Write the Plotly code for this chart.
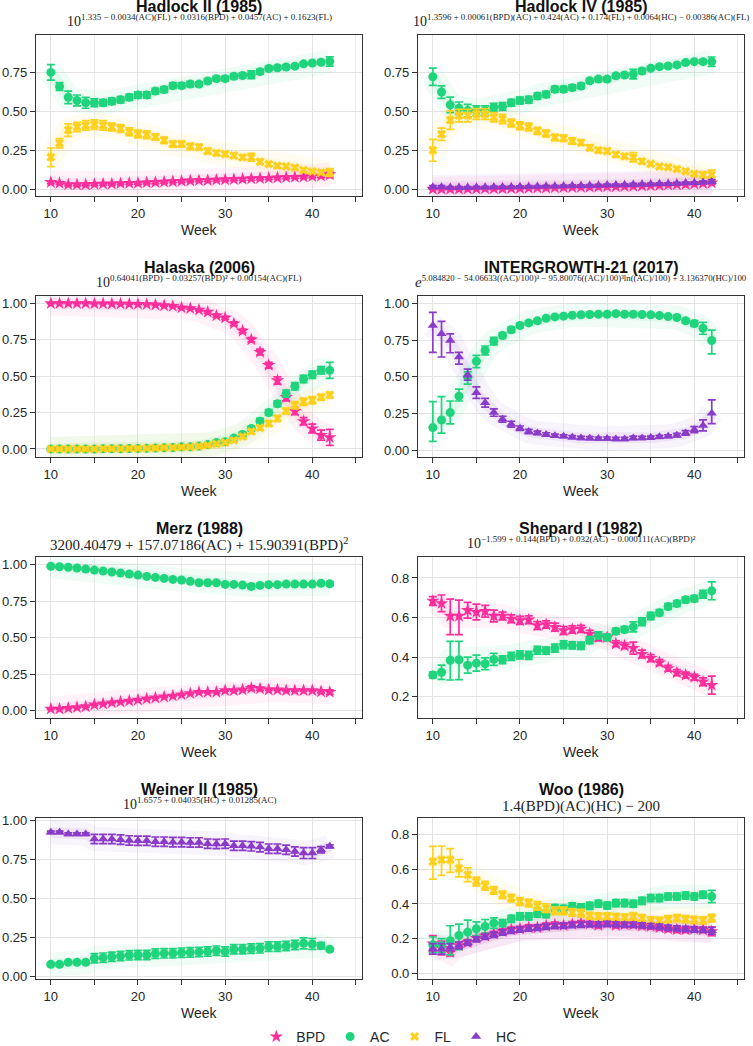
import plotly.graph_objects as go

W, H = 753, 1046
weeks = list(range(10, 43))

# ---------------- Hadlock II (1985) ----------------
h2_bpd = [0.045, 0.04, 0.03, 0.03, 0.03, 0.033, 0.035, 0.035, 0.038, 0.04, 0.04,
          0.043, 0.045, 0.048, 0.05, 0.052, 0.055, 0.057, 0.058, 0.06, 0.062, 0.064,
          0.066, 0.068, 0.07, 0.072, 0.074, 0.076, 0.078, 0.08, 0.083, 0.086, 0.095]
h2_bpd_err = [0.008, 0.008, 0.008, 0.008, 0.008, 0.008, 0.008, 0.008, 0.008, 0.008, 0.008,
              0.008, 0.008, 0.008, 0.008, 0.008, 0.008, 0.008, 0.008, 0.008, 0.008, 0.008,
              0.008, 0.01, 0.008, 0.008, 0.008, 0.008, 0.008, 0.008, 0.008, 0.01, 0.02]
h2_ac = [0.75, 0.66, 0.59, 0.57, 0.555, 0.555, 0.555, 0.565, 0.575, 0.59, 0.605,
         0.605, 0.63, 0.64, 0.665, 0.665, 0.675, 0.675, 0.695, 0.71, 0.71, 0.725,
         0.73, 0.735, 0.755, 0.775, 0.78, 0.785, 0.79, 0.805, 0.81, 0.815, 0.82]
h2_ac_err = [0.05, 0.025, 0.04, 0.035, 0.035, 0.025, 0.02, 0.02, 0.02, 0.02, 0.02,
             0.02, 0.018, 0.018, 0.018, 0.018, 0.018, 0.015, 0.015, 0.015, 0.015, 0.015,
             0.015, 0.025, 0.015, 0.012, 0.012, 0.012, 0.012, 0.01, 0.01, 0.012, 0.03]
h2_fl = [0.205, 0.295, 0.38, 0.40, 0.41, 0.415, 0.41, 0.40, 0.39, 0.37, 0.355,
         0.35, 0.335, 0.315, 0.29, 0.29, 0.275, 0.27, 0.245, 0.233, 0.226, 0.216,
         0.205, 0.205, 0.177, 0.162, 0.151, 0.147, 0.14, 0.123, 0.114, 0.108, 0.108]
h2_fl_err = [0.06, 0.03, 0.04, 0.03, 0.03, 0.03, 0.03, 0.025, 0.025, 0.025, 0.025,
             0.025, 0.02, 0.02, 0.02, 0.02, 0.02, 0.018, 0.018, 0.015, 0.015, 0.015,
             0.015, 0.025, 0.015, 0.012, 0.012, 0.012, 0.012, 0.012, 0.012, 0.012, 0.025]

# ---------------- Hadlock IV (1985) ----------------
h4_bpd = [0.002, 0.002, 0.002, 0.002, 0.003, 0.003, 0.004, 0.004, 0.005, 0.006, 0.007,
          0.008, 0.009, 0.01, 0.011, 0.012, 0.013, 0.014, 0.015, 0.016, 0.017, 0.018,
          0.019, 0.02, 0.022, 0.024, 0.026, 0.028, 0.03, 0.032, 0.035, 0.038, 0.042]
h4_bpd_err = [0.004, 0.004, 0.004, 0.004, 0.004, 0.004, 0.004, 0.004, 0.004, 0.004, 0.004,
              0.004, 0.004, 0.004, 0.004, 0.004, 0.004, 0.004, 0.004, 0.004, 0.004, 0.004,
              0.004, 0.005, 0.004, 0.004, 0.004, 0.004, 0.004, 0.004, 0.004, 0.005, 0.008]
h4_ac = [0.722, 0.624, 0.542, 0.52, 0.505, 0.505, 0.505, 0.527, 0.531, 0.555, 0.57,
         0.574, 0.598, 0.609, 0.642, 0.642, 0.652, 0.663, 0.696, 0.707, 0.707, 0.728,
         0.733, 0.739, 0.759, 0.776, 0.787, 0.791, 0.798, 0.813, 0.819, 0.819, 0.819]
h4_ac_err = [0.055, 0.04, 0.05, 0.04, 0.04, 0.03, 0.03, 0.025, 0.025, 0.022, 0.022,
             0.022, 0.02, 0.02, 0.018, 0.018, 0.018, 0.016, 0.015, 0.015, 0.015, 0.015,
             0.015, 0.03, 0.015, 0.012, 0.012, 0.012, 0.012, 0.01, 0.01, 0.012, 0.03]
h4_fl = [0.25, 0.353, 0.444, 0.473, 0.473, 0.483, 0.483, 0.462, 0.451, 0.425, 0.408,
         0.40, 0.375, 0.358, 0.332, 0.327, 0.31, 0.30, 0.267, 0.251, 0.245, 0.223,
         0.212, 0.206, 0.18, 0.163, 0.147, 0.141, 0.13, 0.115, 0.10, 0.093, 0.093]
h4_fl_err = [0.07, 0.04, 0.06, 0.04, 0.04, 0.035, 0.035, 0.03, 0.03, 0.025, 0.025,
             0.025, 0.022, 0.022, 0.02, 0.02, 0.02, 0.018, 0.018, 0.016, 0.016, 0.015,
             0.015, 0.03, 0.015, 0.012, 0.012, 0.012, 0.012, 0.012, 0.012, 0.018, 0.03]
h4_hc = [0.015, 0.015, 0.012, 0.012, 0.012, 0.013, 0.013, 0.014, 0.015, 0.015, 0.016,
         0.017, 0.018, 0.019, 0.02, 0.021, 0.022, 0.023, 0.024, 0.025, 0.027, 0.028,
         0.029, 0.03, 0.032, 0.033, 0.035, 0.036, 0.038, 0.04, 0.042, 0.045, 0.05]
h4_hc_err = [0.008, 0.008, 0.006, 0.006, 0.006, 0.006, 0.006, 0.006, 0.006, 0.006, 0.006,
             0.006, 0.006, 0.006, 0.006, 0.006, 0.006, 0.006, 0.006, 0.006, 0.006, 0.006,
             0.006, 0.008, 0.006, 0.006, 0.006, 0.006, 0.006, 0.006, 0.006, 0.008, 0.012]

# ---------------- Halaska (2006) ----------------
hk_bpd = [0.999, 0.999, 0.999, 0.999, 0.999, 0.998, 0.998, 0.997, 0.996, 0.995, 0.994,
          0.993, 0.99, 0.985, 0.98, 0.97, 0.965, 0.955, 0.94, 0.915, 0.90, 0.86,
          0.81, 0.75, 0.665, 0.575, 0.47, 0.355, 0.26, 0.19, 0.14, 0.095, 0.08]
hk_bpd_err = [0.002, 0.002, 0.002, 0.002, 0.002, 0.002, 0.002, 0.002, 0.002, 0.002, 0.002,
              0.003, 0.003, 0.004, 0.004, 0.005, 0.006, 0.007, 0.008, 0.01, 0.01, 0.012,
              0.012, 0.015, 0.02, 0.02, 0.025, 0.025, 0.025, 0.025, 0.03, 0.035, 0.055]
hk_ac = [0.0, 0.0, 0.0, 0.0, 0.0, 0.0, 0.001, 0.001, 0.002, 0.003, 0.004,
         0.005, 0.006, 0.008, 0.01, 0.015, 0.015, 0.02, 0.03, 0.045, 0.05, 0.075,
         0.10, 0.14, 0.19, 0.25, 0.31, 0.38, 0.43, 0.48, 0.51, 0.54, 0.54]
hk_ac_err = [0.001, 0.001, 0.001, 0.001, 0.001, 0.001, 0.001, 0.001, 0.001, 0.001, 0.002,
             0.002, 0.002, 0.003, 0.003, 0.004, 0.004, 0.005, 0.006, 0.008, 0.01, 0.01,
             0.015, 0.015, 0.02, 0.02, 0.02, 0.025, 0.025, 0.025, 0.025, 0.025, 0.055]
hk_fl = [0.0, 0.0, 0.0, 0.0, 0.0, 0.0, 0.001, 0.001, 0.002, 0.003, 0.004,
         0.005, 0.006, 0.008, 0.01, 0.012, 0.014, 0.018, 0.025, 0.035, 0.045, 0.06,
         0.085, 0.12, 0.145, 0.175, 0.21, 0.26, 0.30, 0.325, 0.335, 0.355, 0.37]
hk_fl_err = [0.001, 0.001, 0.001, 0.001, 0.001, 0.001, 0.001, 0.001, 0.001, 0.001, 0.002,
             0.002, 0.002, 0.003, 0.003, 0.004, 0.004, 0.005, 0.006, 0.008, 0.008, 0.01,
             0.012, 0.015, 0.015, 0.018, 0.02, 0.02, 0.025, 0.025, 0.025, 0.02, 0.02]

# ---------------- INTERGROWTH-21 (2017) ----------------
ig_ac = [0.155, 0.207, 0.257, 0.369, 0.50, 0.606, 0.68, 0.743, 0.781, 0.82, 0.849,
         0.867, 0.881, 0.899, 0.908, 0.913, 0.919, 0.922, 0.924, 0.926, 0.926, 0.93,
         0.926, 0.926, 0.924, 0.922, 0.917, 0.91, 0.904, 0.881, 0.863, 0.83, 0.747]
ig_ac_up = [0.176, 0.158, 0.079, 0.048, 0.034, 0.04, 0.03, 0.025, 0.02, 0.018, 0.015,
            0.012, 0.012, 0.01, 0.01, 0.01, 0.01, 0.01, 0.01, 0.01, 0.01, 0.01,
            0.01, 0.01, 0.01, 0.01, 0.01, 0.01, 0.012, 0.015, 0.02, 0.04, 0.071]
ig_ac_dn = [0.094, 0.09, 0.077, 0.033, 0.05, 0.043, 0.03, 0.025, 0.02, 0.018, 0.015,
            0.012, 0.012, 0.01, 0.01, 0.01, 0.01, 0.01, 0.01, 0.01, 0.01, 0.01,
            0.01, 0.01, 0.01, 0.01, 0.01, 0.01, 0.012, 0.015, 0.02, 0.04, 0.09]
ig_hc = [0.849, 0.793, 0.748, 0.635, 0.511, 0.392, 0.324, 0.257, 0.212, 0.178, 0.151,
         0.128, 0.119, 0.108, 0.10, 0.096, 0.09, 0.085, 0.083, 0.081, 0.081, 0.078,
         0.078, 0.085, 0.085, 0.087, 0.092, 0.096, 0.103, 0.119, 0.141, 0.17, 0.253]
ig_hc_up = [0.09, 0.085, 0.045, 0.032, 0.041, 0.04, 0.03, 0.025, 0.02, 0.02, 0.015,
            0.015, 0.012, 0.012, 0.01, 0.01, 0.01, 0.01, 0.01, 0.01, 0.01, 0.01,
            0.01, 0.012, 0.01, 0.01, 0.01, 0.01, 0.012, 0.015, 0.02, 0.037, 0.09]
ig_hc_dn = [0.182, 0.158, 0.084, 0.049, 0.034, 0.038, 0.03, 0.025, 0.02, 0.02, 0.015,
            0.015, 0.012, 0.012, 0.01, 0.01, 0.01, 0.01, 0.01, 0.01, 0.01, 0.01,
            0.01, 0.012, 0.01, 0.01, 0.01, 0.01, 0.012, 0.015, 0.02, 0.037, 0.071]

# ---------------- Merz (1988) ----------------
mz_bpd = [0.011, 0.011, 0.016, 0.021, 0.027, 0.039, 0.046, 0.053, 0.059, 0.066, 0.073,
          0.08, 0.087, 0.094, 0.10, 0.108, 0.117, 0.126, 0.126, 0.126, 0.137, 0.137,
          0.142, 0.153, 0.149, 0.142, 0.142, 0.137, 0.137, 0.137, 0.137, 0.13, 0.126]
mz_bpd_err = [0.004, 0.004, 0.004, 0.004, 0.004, 0.004, 0.004, 0.004, 0.004, 0.004, 0.004,
              0.004, 0.004, 0.004, 0.004, 0.004, 0.004, 0.005, 0.005, 0.005, 0.005, 0.005,
              0.006, 0.015, 0.01, 0.005, 0.005, 0.005, 0.005, 0.005, 0.005, 0.01, 0.015]
mz_ac = [0.989, 0.986, 0.982, 0.977, 0.97, 0.963, 0.957, 0.95, 0.943, 0.936, 0.929,
         0.92, 0.913, 0.906, 0.899, 0.895, 0.886, 0.876, 0.876, 0.876, 0.865, 0.865,
         0.86, 0.851, 0.858, 0.863, 0.863, 0.867, 0.867, 0.867, 0.867, 0.872, 0.869]
mz_ac_err = [0.004, 0.004, 0.004, 0.004, 0.004, 0.004, 0.004, 0.004, 0.004, 0.004, 0.004,
             0.004, 0.004, 0.004, 0.004, 0.004, 0.004, 0.005, 0.005, 0.005, 0.005, 0.005,
             0.006, 0.015, 0.01, 0.005, 0.005, 0.005, 0.005, 0.005, 0.005, 0.01, 0.015]

# ---------------- Shepard I (1982) ----------------
sh_bpd = [0.684, 0.672, 0.608, 0.608, 0.637, 0.628, 0.632, 0.608, 0.608, 0.594, 0.586,
          0.589, 0.56, 0.565, 0.552, 0.535, 0.54, 0.543, 0.518, 0.50, 0.50, 0.468,
          0.458, 0.446, 0.416, 0.395, 0.373, 0.344, 0.322, 0.31, 0.299, 0.276, 0.259]
sh_bpd_up = [0.022, 0.042, 0.085, 0.08, 0.04, 0.04, 0.03, 0.03, 0.02, 0.02, 0.02,
             0.02, 0.02, 0.018, 0.02, 0.02, 0.018, 0.018, 0.018, 0.018, 0.015, 0.015,
             0.015, 0.03, 0.02, 0.018, 0.015, 0.015, 0.015, 0.015, 0.015, 0.02, 0.045]
sh_bpd_dn = [0.022, 0.042, 0.094, 0.094, 0.04, 0.04, 0.03, 0.03, 0.02, 0.02, 0.02,
             0.02, 0.02, 0.018, 0.02, 0.02, 0.018, 0.018, 0.018, 0.018, 0.015, 0.015,
             0.015, 0.03, 0.02, 0.018, 0.015, 0.015, 0.015, 0.015, 0.015, 0.02, 0.045]
sh_ac = [0.31, 0.324, 0.384, 0.387, 0.36, 0.37, 0.367, 0.389, 0.387, 0.404, 0.412,
         0.409, 0.435, 0.433, 0.446, 0.463, 0.46, 0.458, 0.486, 0.51, 0.50, 0.531,
         0.54, 0.553, 0.579, 0.608, 0.625, 0.656, 0.671, 0.69, 0.696, 0.718, 0.735]
sh_ac_up = [0.015, 0.036, 0.096, 0.093, 0.04, 0.04, 0.03, 0.03, 0.02, 0.02, 0.02,
            0.02, 0.02, 0.018, 0.02, 0.02, 0.018, 0.018, 0.018, 0.018, 0.015, 0.015,
            0.015, 0.025, 0.02, 0.018, 0.015, 0.015, 0.015, 0.015, 0.015, 0.02, 0.045]
sh_ac_dn = [0.015, 0.036, 0.099, 0.10, 0.04, 0.04, 0.03, 0.03, 0.02, 0.02, 0.02,
            0.02, 0.02, 0.018, 0.02, 0.02, 0.018, 0.018, 0.018, 0.018, 0.015, 0.015,
            0.015, 0.025, 0.02, 0.018, 0.015, 0.015, 0.015, 0.015, 0.015, 0.02, 0.045]

# ---------------- Weiner II (1985) ----------------
wn_ac = [0.075, 0.075, 0.088, 0.088, 0.088, 0.114, 0.118, 0.124, 0.129, 0.133, 0.135,
         0.135, 0.144, 0.146, 0.146, 0.15, 0.152, 0.155, 0.157, 0.163, 0.157, 0.172,
         0.172, 0.176, 0.178, 0.189, 0.189, 0.193, 0.20, 0.21, 0.206, 0.195, 0.172]
wn_ac_err = [0.008, 0.008, 0.008, 0.008, 0.008, 0.03, 0.03, 0.03, 0.03, 0.03, 0.03,
             0.03, 0.03, 0.03, 0.03, 0.03, 0.03, 0.03, 0.03, 0.03, 0.03, 0.03,
             0.03, 0.03, 0.03, 0.03, 0.03, 0.03, 0.03, 0.035, 0.035, 0.02, 0.01]
wn_hc = [0.923, 0.923, 0.912, 0.912, 0.912, 0.88, 0.88, 0.88, 0.876, 0.871, 0.869,
         0.869, 0.863, 0.863, 0.86, 0.86, 0.858, 0.858, 0.85, 0.848, 0.85, 0.837,
         0.837, 0.833, 0.828, 0.818, 0.818, 0.811, 0.80, 0.79, 0.79, 0.811, 0.833]
wn_hc_err = [0.008, 0.008, 0.008, 0.008, 0.008, 0.03, 0.03, 0.03, 0.03, 0.03, 0.03,
             0.03, 0.03, 0.03, 0.03, 0.03, 0.03, 0.03, 0.03, 0.03, 0.03, 0.03,
             0.03, 0.03, 0.03, 0.03, 0.03, 0.03, 0.03, 0.035, 0.035, 0.02, 0.01]

# ---------------- Woo (1986) ----------------
wo_bpd = [0.17, 0.145, 0.12, 0.16, 0.177, 0.202, 0.216, 0.227, 0.241, 0.251, 0.256,
          0.264, 0.264, 0.274, 0.28, 0.276, 0.283, 0.289, 0.285, 0.276, 0.289, 0.276,
          0.28, 0.28, 0.274, 0.27, 0.264, 0.256, 0.251, 0.251, 0.254, 0.251, 0.241]
wo_bpd_err = [0.047, 0.04, 0.02, 0.02, 0.015, 0.015, 0.015, 0.015, 0.015, 0.015, 0.015,
              0.015, 0.015, 0.015, 0.015, 0.015, 0.015, 0.015, 0.015, 0.015, 0.015, 0.015,
              0.015, 0.015, 0.015, 0.015, 0.015, 0.015, 0.015, 0.015, 0.015, 0.015, 0.025]
wo_ac = [0.164, 0.16, 0.187, 0.218, 0.237, 0.256, 0.27, 0.289, 0.289, 0.314, 0.328,
         0.328, 0.343, 0.341, 0.376, 0.372, 0.386, 0.38, 0.389, 0.401, 0.391, 0.405,
         0.405, 0.401, 0.418, 0.434, 0.434, 0.443, 0.443, 0.449, 0.443, 0.453, 0.443]
wo_ac_up = [0.045, 0.04, 0.087, 0.065, 0.07, 0.04, 0.04, 0.03, 0.02, 0.02, 0.02,
            0.02, 0.02, 0.02, 0.02, 0.02, 0.02, 0.02, 0.02, 0.02, 0.02, 0.02,
            0.02, 0.02, 0.02, 0.02, 0.02, 0.02, 0.02, 0.02, 0.02, 0.02, 0.035]
wo_ac_dn = [0.045, 0.04, 0.081, 0.083, 0.065, 0.04, 0.04, 0.03, 0.02, 0.02, 0.02,
            0.02, 0.02, 0.02, 0.02, 0.02, 0.02, 0.02, 0.02, 0.02, 0.02, 0.02,
            0.02, 0.02, 0.02, 0.02, 0.02, 0.02, 0.02, 0.02, 0.02, 0.02, 0.035]
wo_fl = [0.646, 0.655, 0.655, 0.607, 0.569, 0.53, 0.505, 0.478, 0.453, 0.434, 0.414,
         0.405, 0.389, 0.376, 0.36, 0.36, 0.351, 0.347, 0.332, 0.328, 0.328, 0.324,
         0.322, 0.328, 0.318, 0.305, 0.303, 0.312, 0.318, 0.312, 0.308, 0.305, 0.318]
wo_fl_up = [0.087, 0.08, 0.065, 0.05, 0.04, 0.025, 0.025, 0.022, 0.022, 0.022, 0.022,
            0.022, 0.025, 0.025, 0.022, 0.022, 0.022, 0.022, 0.02, 0.02, 0.02, 0.02,
            0.02, 0.022, 0.02, 0.02, 0.02, 0.02, 0.02, 0.02, 0.02, 0.02, 0.022]
wo_fl_dn = [0.102, 0.09, 0.072, 0.05, 0.04, 0.025, 0.025, 0.022, 0.022, 0.022, 0.022,
            0.022, 0.025, 0.025, 0.022, 0.022, 0.022, 0.022, 0.02, 0.02, 0.02, 0.02,
            0.02, 0.022, 0.02, 0.02, 0.02, 0.02, 0.02, 0.02, 0.02, 0.02, 0.022]
wo_hc = [0.14, 0.14, 0.15, 0.16, 0.175, 0.195, 0.21, 0.222, 0.235, 0.245, 0.252,
         0.258, 0.262, 0.268, 0.272, 0.274, 0.278, 0.28, 0.282, 0.282, 0.284, 0.282,
         0.28, 0.279, 0.276, 0.272, 0.268, 0.262, 0.258, 0.255, 0.252, 0.25, 0.245]
wo_hc_err = [0.03, 0.03, 0.02, 0.02, 0.015, 0.015, 0.015, 0.015, 0.015, 0.015, 0.015,
             0.015, 0.015, 0.015, 0.015, 0.015, 0.015, 0.015, 0.015, 0.015, 0.015, 0.015,
             0.015, 0.015, 0.015, 0.015, 0.015, 0.015, 0.015, 0.015, 0.015, 0.015, 0.02]

# ---------------- styling ----------------
COL = {"BPD": "#fb2e9b", "AC": "#1fd47c", "FL": "#ffd11e", "HC": "#8a3cc8"}
RGB = {"BPD": "251,46,155", "AC": "31,212,124", "FL": "255,209,30", "HC": "138,60,200"}
SYM = {"BPD": "star", "AC": "circle", "FL": "x", "HC": "triangle-up"}
MSIZE = {"BPD": 10, "AC": 9, "FL": 8, "HC": 9}
ORDER = ["BPD", "AC", "FL", "HC"]


def sup(base, exp, size=9.0):
    return base + "<sup><span style='font-size:%.1fpx'>%s</span></sup>" % (size, exp)


panels = [
    dict(title="Hadlock II (1985)",
         formula=sup("10", "1.335 − 0.0034(AC)(FL) + 0.0316(BPD) + 0.0457(AC) + 0.1623(FL)"), fsize=14, has_sup=True,
         series={"BPD": (h2_bpd, h2_bpd_err, None), "AC": (h2_ac, h2_ac_err, None),
                 "FL": (h2_fl, h2_fl_err, None)},
         yrange=[-0.043, 0.99], yticks=[0, 0.25, 0.5, 0.75], fmt=".2f"),
    dict(title="Hadlock IV (1985)",
         formula=sup("10", "1.3596 + 0.00061(BPD)(AC) + 0.424(AC) + 0.174(FL) + 0.0064(HC) − 0.00386(AC)(FL)", 8.9), fsize=14, has_sup=True,
         series={"BPD": (h4_bpd, h4_bpd_err, None), "AC": (h4_ac, h4_ac_err, None),
                 "FL": (h4_fl, h4_fl_err, None), "HC": (h4_hc, h4_hc_err, None)},
         yrange=[-0.043, 0.99], yticks=[0, 0.25, 0.5, 0.75], fmt=".2f"),
    dict(title="Halaska (2006)",
         formula=sup("10", "0.64041(BPD) − 0.03257(BPD)² + 0.00154(AC)(FL)"), fsize=14, has_sup=True,
         series={"BPD": (hk_bpd, hk_bpd_err, None), "AC": (hk_ac, hk_ac_err, None),
                 "FL": (hk_fl, hk_fl_err, None)},
         yrange=[-0.055, 1.05], yticks=[0, 0.25, 0.5, 0.75, 1.0], fmt=".2f"),
    dict(title="INTERGROWTH-21 (2017)",
         formula=sup("<i>e</i>", "5.084820 − 54.06633((AC)/100)³ − 95.80076((AC)/100)³ln((AC)/100) + 3.136370(HC)/100", 8.8), fsize=15, has_sup=True,
         series={"AC": (ig_ac, ig_ac_up, ig_ac_dn), "HC": (ig_hc, ig_hc_up, ig_hc_dn)},
         yrange=[-0.045, 1.05], yticks=[0, 0.25, 0.5, 0.75, 1.0], fmt=".2f"),
    dict(title="Merz (1988)",
         formula="3200.40479 + 157.07186(AC) + 15.90391(BPD)<sup>2</sup>", fsize=15, has_sup=False,
         series={"BPD": (mz_bpd, mz_bpd_err, None), "AC": (mz_ac, mz_ac_err, None)},
         yrange=[-0.052, 1.053], yticks=[0, 0.25, 0.5, 0.75, 1.0], fmt=".2f"),
    dict(title="Shepard I (1982)",
         formula=sup("10", "−1.599 + 0.144(BPD) + 0.032(AC) − 0.000111(AC)(BPD)²"), fsize=14, has_sup=True,
         series={"BPD": (sh_bpd, sh_bpd_up, sh_bpd_dn), "AC": (sh_ac, sh_ac_up, sh_ac_dn)},
         yrange=[0.093, 0.906], yticks=[0.2, 0.4, 0.6, 0.8], fmt=".1f"),
    dict(title="Weiner II (1985)",
         formula=sup("10", "1.6575 + 0.04035(HC) + 0.01285(AC)"), fsize=14, has_sup=True,
         series={"AC": (wn_ac, wn_ac_err, None), "HC": (wn_hc, wn_hc_err, None)},
         yrange=[-0.019, 1.015], yticks=[0, 0.25, 0.5, 0.75, 1.0], fmt=".2f"),
    dict(title="Woo (1986)",
         formula="1.4(BPD)(AC)(HC) − 200", fsize=15, has_sup=False,
         series={"BPD": (wo_bpd, wo_bpd_err, None), "AC": (wo_ac, wo_ac_up, wo_ac_dn),
                 "FL": (wo_fl, wo_fl_up, wo_fl_dn), "HC": (wo_hc, wo_hc_err, None)},
         yrange=[-0.034, 0.897], yticks=[0, 0.2, 0.4, 0.6, 0.8], fmt=".1f"),
]

for p in panels:
    for k, (v, e1, e2) in p["series"].items():
        assert len(v) == 33 and len(e1) == 33 and (e2 is None or len(e2) == 33), (p["title"], k)

# layout geometry (pixels)
col_x = [(36, 362), (418, 744)]
row_top = [35, 296, 557, 818]
row_h = 161


def py(px):
    return 1 - px / H


fig = go.Figure()
layout = dict(width=W, height=H, margin=dict(l=0, r=0, t=0, b=0, autoexpand=False),
              plot_bgcolor="white", paper_bgcolor="white",
              font=dict(family="Liberation Sans, Arial, sans-serif", size=13, color="#262626"),
              showlegend=True, annotations=[])

FONT_T = "Liberation Sans, Arial, sans-serif"
FONT_F = "Liberation Serif, Times New Roman, serif"

axis_common = dict(showline=True, linecolor="#333333", linewidth=1.3, mirror=True,
                   ticks="outside", ticklen=5, tickwidth=1.2, tickcolor="#333333",
                   showgrid=True, gridcolor="#e4e4e4", gridwidth=1, zeroline=False,
                   tickfont=dict(size=13, color="#262626"))

for i, p in enumerate(panels):
    r, c = divmod(i, 2)
    n = i + 1
    xs = "x" if n == 1 else "x%d" % n
    ys = "y" if n == 1 else "y%d" % n
    x0, x1 = col_x[c]
    top = row_top[r]
    bot = top + row_h
    layout["xaxis" if n == 1 else "xaxis%d" % n] = dict(
        domain=[x0 / W, x1 / W], anchor=ys, range=[8.3, 45.7],
        tickmode="array", tickvals=[10, 20, 30, 40],
        minor=dict(tickmode="array", tickvals=[15, 25, 35, 45], ticks="outside", ticklen=5,
                   tickwidth=1.2, tickcolor="#333333", showgrid=True, gridcolor="#ececec",
                   gridwidth=1),
        **axis_common)
    layout["yaxis" if n == 1 else "yaxis%d" % n] = dict(
        domain=[py(bot), py(top)], anchor=xs, range=p["yrange"],
        tickmode="array", tickvals=p["yticks"], tickformat=p["fmt"], **axis_common)

    cx = (x0 + x1) / 2 / W
    layout["annotations"].append(dict(
        text="<b>%s</b>" % p["title"], x=cx, y=py(top - 28.5), xref="paper", yref="paper",
        xanchor="center", yanchor="middle", showarrow=False,
        font=dict(family=FONT_T, size=16, color="#111111")))
    fy = top - 4 if p["has_sup"] else top - 1
    layout["annotations"].append(dict(
        text=p["formula"], x=cx, y=py(fy), xref="paper", yref="paper",
        xanchor="center", yanchor="bottom", showarrow=False,
        font=dict(family=FONT_F, size=p["fsize"], color="#222222")))
    layout["annotations"].append(dict(
        text="Week", x=cx, y=py(bot + 34), xref="paper", yref="paper",
        xanchor="center", yanchor="middle", showarrow=False,
        font=dict(family=FONT_T, size=14, color="#262626")))

    keys = [k for k in ORDER if k in p["series"]]
    # faint spread behind the means
    for key in keys:
        vals = p["series"][key][0]
        fig.add_trace(go.Scatter(x=weeks, y=vals, xaxis=xs, yaxis=ys, mode="lines",
                                 line=dict(color="rgba(%s,0.06)" % RGB[key], width=24),
                                 hoverinfo="skip", showlegend=False))
        fig.add_trace(go.Scatter(x=weeks, y=vals, xaxis=xs, yaxis=ys, mode="lines",
                                 line=dict(color="rgba(%s,0.08)" % RGB[key], width=11),
                                 hoverinfo="skip", showlegend=False))
    for key in keys:
        vals, eup, edn = p["series"][key]
        err = dict(type="data", array=eup, color=COL[key], thickness=1.7, width=4)
        if edn is not None:
            err.update(symmetric=False, arrayminus=edn)
        fig.add_trace(go.Scatter(
            x=weeks, y=vals, xaxis=xs, yaxis=ys, mode="markers",
            marker=dict(symbol=SYM[key], size=MSIZE[key], color=COL[key],
                        line=dict(width=0)),
            error_y=err, showlegend=False, name=key))

# legend entries
for key in ORDER:
    fig.add_trace(go.Scatter(x=[None], y=[None], mode="markers", name=key,
                             marker=dict(symbol=SYM[key], size=MSIZE[key], color=COL[key]),
                             showlegend=True))

layout["legend"] = dict(orientation="h", x=0.517, xanchor="center", y=py(1037), yanchor="middle",
                        font=dict(family=FONT_T, size=14, color="#262626"),
                        bgcolor="rgba(0,0,0,0)", itemwidth=30)

fig.update_layout(**layout)
fig.write_html("out.html")
